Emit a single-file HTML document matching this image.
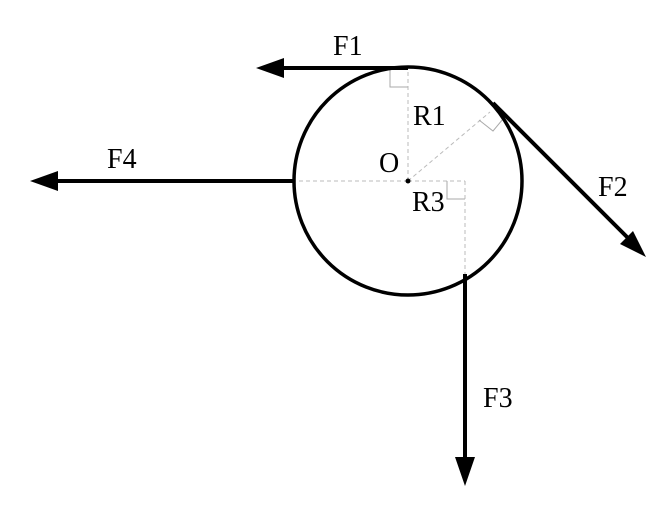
<!DOCTYPE html>
<html><head><style>body{margin:0;background:#fff;position:relative;width:669px;height:508px;overflow:hidden}svg{display:block;position:absolute;left:0;top:0}.t{position:absolute;font-family:"Liberation Serif",serif;font-size:28px;line-height:28px;color:#000;white-space:nowrap}</style></head>
<body>
<svg width="669" height="508" viewBox="0 0 669 508" xmlns="http://www.w3.org/2000/svg">
<g stroke="#bbb" stroke-width="1" stroke-dasharray="4,3" fill="none">
<line x1="408" y1="181" x2="408" y2="68"/>
<line x1="408" y1="181" x2="294" y2="181"/>
<line x1="408" y1="181" x2="465" y2="181"/>
<line x1="465" y1="181" x2="465" y2="274"/>
<line x1="408" y1="181" x2="490" y2="112"/>
</g>
<g stroke="#aaa" stroke-width="1" fill="none">
<polyline points="390,68 390,87 408,87"/>
<polyline points="447,181 447,199 465,199"/>
<polyline points="479,120 493,131 503,119"/>
</g>
<circle cx="408" cy="181" r="114" fill="none" stroke="#000" stroke-width="3.5"/>
<g stroke="#000" stroke-width="4" fill="none">
<line x1="408" y1="68" x2="280" y2="68"/>
<line x1="294" y1="181" x2="55" y2="181"/>
<line x1="465" y1="274" x2="465" y2="460"/>
<line x1="493" y1="103" x2="630" y2="240"/>
</g>
<g fill="#000">
<polygon points="256,68 284,58 284,78"/>
<polygon points="30,181 58,171 58,191"/>
<polygon points="465,486 455,457 475,457"/>
<polygon points="646,257 620,244 633,231"/>
<circle cx="408" cy="181" r="2.5"/>
</g>
</svg>
<div class="t" style="left:333px;top:33px">F1</div>
<div class="t" style="left:413px;top:103px">R1</div>
<div class="t" style="left:379px;top:150px">O</div>
<div class="t" style="left:412px;top:189px">R3</div>
<div class="t" style="left:107px;top:146px">F4</div>
<div class="t" style="left:598px;top:174px">F2</div>
<div class="t" style="left:483px;top:385px">F3</div>
</body></html>
